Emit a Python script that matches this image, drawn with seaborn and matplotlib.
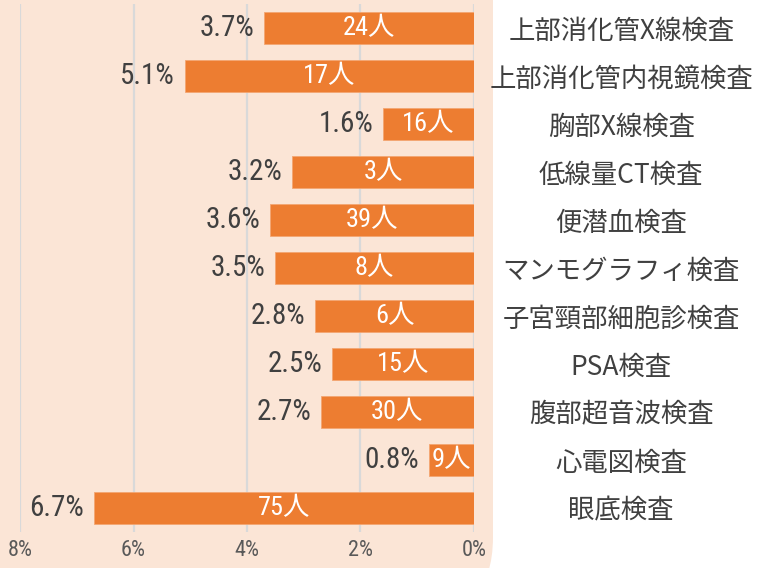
import numpy as np
import matplotlib.pyplot as plt
import seaborn as sns
import pandas as pd
from matplotlib.patches import FancyBboxPatch

# Data
exams = ['上部消化管X線検査', '上部消化管内視鏡検査', '胸部X線検査', '低線量CT検査', '便潜血検査',
         'マンモグラフィ検査', '子宮頸部細胞診検査', 'PSA検査', '腹部超音波検査', '心電図検査', '眼底検査']
rates = [3.7, 5.1, 1.6, 3.2, 3.6, 3.5, 2.8, 2.5, 2.7, 0.8, 6.7]
counts = [24, 17, 16, 3, 39, 8, 6, 15, 30, 9, 75]
x_ticks = [8, 6, 4, 2, 0]

df = pd.DataFrame({'exam': exams, 'rate': rates, 'count': counts})

sns.set_theme(style='white')
plt.rcParams['font.family'] = ['Noto Sans CJK JP', 'DejaVu Sans']

num_font = ['Roboto Condensed', 'Liberation Sans Narrow', 'Roboto', 'Noto Sans CJK JP']
text_col = '#404040'

fig = plt.figure(figsize=(7.59, 5.68), dpi=100, facecolor='white')

# peach panel behind the plot area, rounded bottom-right corner
bg = FancyBboxPatch((-1.0, -0.52), 1.0 + 4.93, 7.5,
                    boxstyle='round,pad=0,rounding_size=0.83',
                    transform=fig.dpi_scale_trans, facecolor='#FBE5D6',
                    edgecolor='none', zorder=-5)
fig.patches.append(bg)

ax = fig.add_axes([20 / 759, 1 - 532 / 568, (474 - 20) / 759, (532 - 4) / 568])
ax.set_facecolor('none')
ax.set_zorder(2)

sns.barplot(data=df, y='exam', x='rate', orient='h', color='#ED7D31',
            saturation=1, width=0.67, ax=ax, zorder=3, edgecolor='#F4A672', linewidth=0.6)

ax.set_xlim(8, 0)
ax.set_ylim(len(exams) - 0.5, -0.5)
ax.set_xticks(x_ticks)
ax.set_xticklabels([f'{t}%' for t in x_ticks], family=num_font, fontsize=16,
                   color='#595959', fontstretch='condensed')
ax.tick_params(axis='x', length=0, pad=6)

ax.yaxis.tick_right()
ax.set_yticks(range(len(exams)))
ax.set_yticklabels(exams, fontsize=19, color=text_col, ha='center')
ax.tick_params(axis='y', length=0, pad=106)

ax.grid(axis='x', color='#D9D9D9', linewidth=1.6, zorder=0)
ax.grid(axis='y', visible=False)
ax.set_axisbelow(True)
for s in ax.spines.values():
    s.set_visible(False)
ax.set_xlabel('')
ax.set_ylabel('')

for i, (r, c) in enumerate(zip(rates, counts)):
    ax.annotate(f'{r:.1f}%', xy=(r, i), xytext=(-7, 0), textcoords='offset points',
                ha='right', va='center', fontsize=21, color=text_col, family=num_font,
                fontstretch='condensed')
    ax.text(r / 2, i, f'{c}人', ha='center', va='center', fontsize=19,
            color='white', family=num_font, fontstretch='condensed', zorder=4)

fig.savefig('out.png', dpi=100, facecolor='white')
